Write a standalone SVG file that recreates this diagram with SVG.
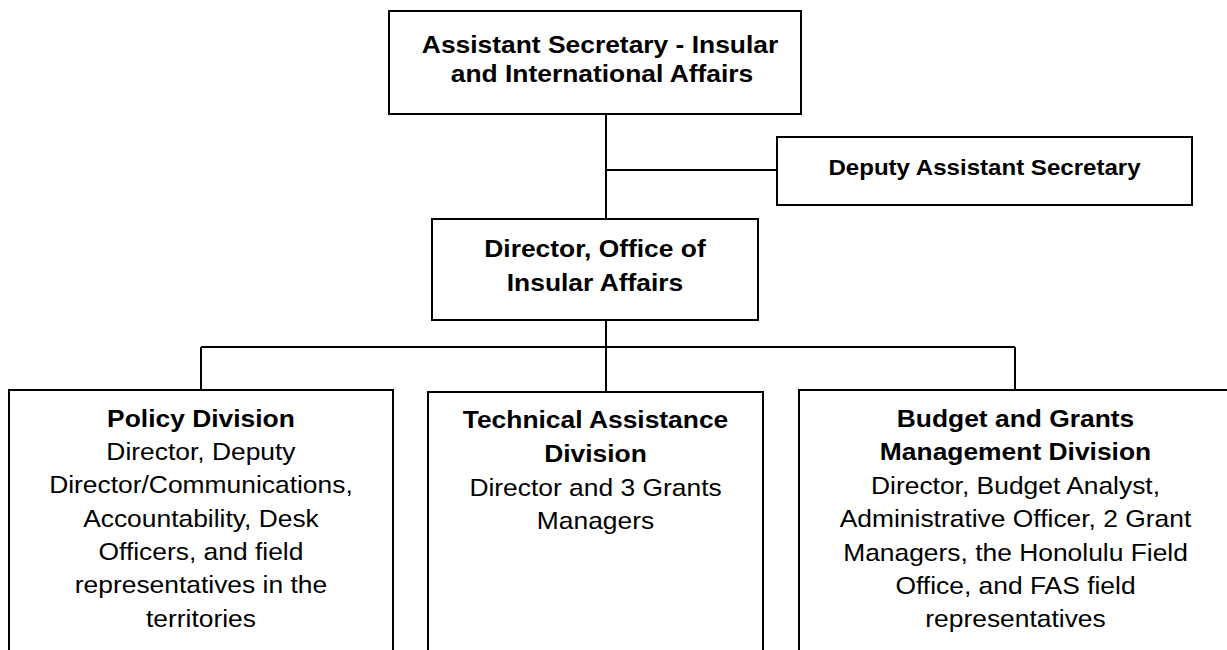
<svg xmlns="http://www.w3.org/2000/svg" width="1227" height="650" viewBox="0 0 1227 650">
<style>
.box{fill:#fff;stroke:#000;stroke-width:2}
.con{fill:none;stroke:#000;stroke-width:2}
text{font-family:"Liberation Sans",Arial,sans-serif;font-size:24px;fill:#000;text-anchor:middle}
.b{font-weight:bold}
.sm{font-size:22.5px}
</style>
<rect width="1227" height="650" fill="#fff"/>
<g id="connectors">
<path class="con" d="M606 114V219M606 170H777M606 320V347M201 347H1015M201 347V390M606 347V392M1015 347V390"/>
</g>
<g id="n-asst-sec">
<rect class="box" x="389" y="11" width="412" height="103"/>
<text class="b" transform="scale(1.1 1)" x="545.5" y="53">Assistant Secretary - Insular</text>
<text class="b" transform="scale(1.1 1)" x="547.3" y="82">and International Affairs</text>
</g>
<g id="n-deputy">
<rect class="box" x="777" y="137" width="415" height="68"/>
<text class="b sm" transform="scale(1.07 1)" x="920.1" y="175">Deputy Assistant Secretary</text>
</g>
<g id="n-director">
<rect class="box" x="432" y="219" width="326" height="101"/>
<text class="b" transform="scale(1.1 1)" x="540.9" y="257">Director, Office of</text>
<text class="b" transform="scale(1.1 1)" x="540.9" y="291">Insular Affairs</text>
</g>
<g id="n-policy">
<rect class="box" x="9" y="390" width="384" height="280"/>
<text transform="scale(1.1 1)" x="182.7"><tspan class="b" x="182.7" y="427">Policy Division</tspan><tspan x="182.7" y="460">Director, Deputy</tspan><tspan x="182.7" y="493">Director/Communications,</tspan><tspan x="182.7" y="527">Accountability, Desk</tspan><tspan x="182.7" y="560">Officers, and field</tspan><tspan x="182.7" y="593">representatives in the</tspan><tspan x="182.7" y="627">territories</tspan></text>
</g>
<g id="n-technical">
<rect class="box" x="428" y="392" width="335" height="280"/>
<text transform="scale(1.1 1)" x="541.4"><tspan class="b" x="541.4" y="428">Technical Assistance</tspan><tspan class="b" x="541.4" y="462">Division</tspan><tspan x="541.4" y="496">Director and 3 Grants</tspan><tspan x="541.4" y="529">Managers</tspan></text>
</g>
<g id="n-budget">
<rect class="box" x="799" y="390" width="440" height="280"/>
<text transform="scale(1.1 1)" x="923.2"><tspan class="b" x="923.2" y="427">Budget and Grants</tspan><tspan class="b" x="923.2" y="460">Management Division</tspan><tspan x="923.2" y="494">Director, Budget Analyst,</tspan><tspan x="923.2" y="527">Administrative Officer, 2 Grant</tspan><tspan x="923.2" y="561">Managers, the Honolulu Field</tspan><tspan x="923.2" y="594">Office, and FAS field</tspan><tspan x="923.2" y="627">representatives</tspan></text>
</g>
</svg>
